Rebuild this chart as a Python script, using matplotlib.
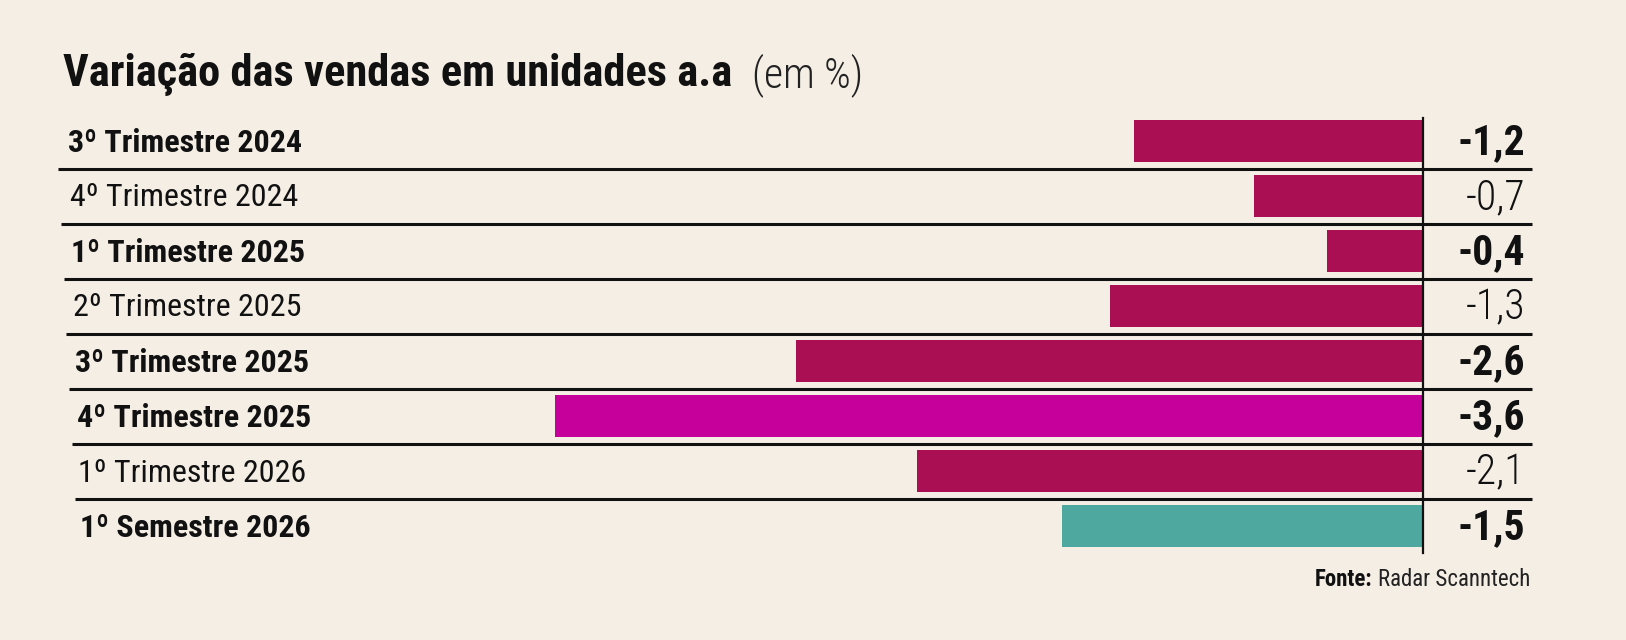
import matplotlib
matplotlib.use("Agg")
import matplotlib.pyplot as plt
import matplotlib.transforms as mtransforms

# data
periods = ["3º Trimestre 2024", "4º Trimestre 2024", "1º Trimestre 2025", "2º Trimestre 2025",
           "3º Trimestre 2025", "4º Trimestre 2025", "1º Trimestre 2026", "1º Semestre 2026"]
values = [-1.2, -0.7, -0.4, -1.3, -2.6, -3.6, -2.1, -1.5]
value_labels = ["-1,2", "-0,7", "-0,4", "-1,3", "-2,6", "-3,6", "-2,1", "-1,5"]
bold_rows = [True, False, True, False, True, True, False, True]
title = "Variação das vendas em unidades a.a"
subtitle = "(em %)"
source_bold = "Fonte:"
source_text = "Radar Scanntech"

bg = "#f4eee5"
crimson = "#a90f52"
magenta = "#c6009a"
teal = "#4ea89f"
bar_colors = [crimson] * 5 + [magenta, crimson, teal]

W, H = 1626, 640
FONT = ["Roboto Condensed", "Noto Sans", "Roboto", "DejaVu Sans"]
plt.rcParams["font.family"] = FONT
plt.rcParams["font.stretch"] = "condensed"

fig = plt.figure(figsize=(W / 100, H / 100), dpi=100, facecolor=bg)
ax = fig.add_axes([0, 0, 1, 1])
ax.set_facecolor(bg)

# scale: zero at x=1423 px, 241 px per unit; rows 55 px apart, first centre 141 px
x0, ppu = 1423, 241
ax.set_xlim(-x0 / ppu, (W - x0) / ppu)
y0, pitch = 141, 55
ax.set_ylim((H - y0) / pitch, -y0 / pitch)
ax.axis("off")

rows = list(range(len(periods)))
ax.barh(rows, values, height=0.76, color=bar_colors, zorder=2)

# zero line
ax.plot([0, 0], [-0.42, 7.49], color="#111111", lw=1.6, zorder=3)

# pixel transform (origin at top-left)
px = mtransforms.Affine2D().scale(1 / W, -1 / H).translate(0, 1) + fig.transFigure

# separators
for i in range(len(periods) - 1):
    yy = i + 0.5
    xl = (58 + 2.8 * i - x0) / ppu
    xr = (1532 - x0) / ppu
    ax.plot([xl, xr], [yy, yy], color="#111111", lw=2.2, zorder=3, solid_capstyle="butt")

for i, (p, lab, b) in enumerate(zip(periods, value_labels, bold_rows)):
    yy = y0 + pitch * i + 2
    ax.text(68 + 1.7 * i, yy, p, transform=px, ha="left", va="center",
            fontsize=23, fontweight="bold" if b else "normal", color="#111111")
    ax.text(1525, yy, lab, transform=px, ha="right", va="center",
            fontsize=30, fontweight="bold" if b else "light", color="#111111")

# title
renderer = fig.canvas.get_renderer()
t = ax.text(63, 75, title, transform=px, ha="left", va="center",
            fontsize=32, fontweight="bold", color="#111111")
tb = t.get_window_extent(renderer)
ax.text(tb.x1 + 20, 75, subtitle, transform=mtransforms.blended_transform_factory(
            mtransforms.IdentityTransform(), px), ha="left", va="center",
        fontsize=30, fontweight="light", color="#222222")

# source
s = ax.text(1530, 580, source_text, transform=px, ha="right", va="center",
            fontsize=16.5, color="#222222")
sb = s.get_window_extent(renderer)
ax.text(sb.x0 - 6, 580, source_bold, transform=mtransforms.blended_transform_factory(
            mtransforms.IdentityTransform(), px), ha="right", va="center",
        fontsize=16.5, fontweight="bold", color="#111111")

fig.savefig("out.png", dpi=100, facecolor=bg)
